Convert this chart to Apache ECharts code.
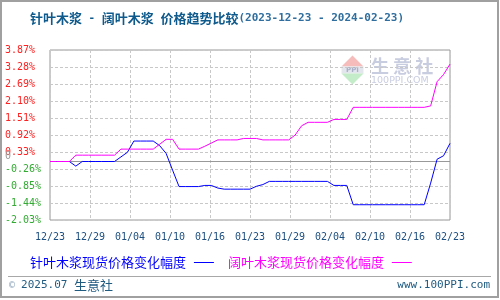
<!DOCTYPE html>
<html><head><meta charset="utf-8">
<script src="https://cdn.jsdelivr.net/npm/echarts@6/dist/echarts.min.js"></script>
<style>html,body{margin:0;padding:0;background:#fff}#c{width:500px;height:300px}</style>
</head><body><div id="c"></div>
<script>
// Daily points from 2023-12-23 to 2024-02-23 (63 days)
const dayCount = 63;
const xTickLabels = ['12/23','12/29','01/04','01/10','01/16','01/23','01/29','02/04','02/10','02/16','02/23'];
const yTickLabels = ['-2.03%','-1.44%','-0.85%','-0.26%','0.33%','0.92%','1.51%','2.10%','2.69%','3.28%','3.87%'];
const yMin = -2.03, yMax = 3.87, yStep = 0.59;
const seriesNames = ['针叶木浆现货价格变化幅度', '阔叶木浆现货价格变化幅度'];
const softwood = [
  0,0,0,0,-0.16,0,0,0,0,0,0,0.16,0.32,0.71,0.71,0.71,0.71,0.55,0.28,-0.30,
  -0.87,-0.87,-0.87,-0.87,-0.83,-0.83,-0.92,-0.96,-0.96,-0.96,-0.96,-0.96,-0.86,-0.80,
  -0.69,-0.69,-0.69,-0.69,-0.69,-0.69,-0.69,-0.69,-0.69,-0.69,-0.83,-0.83,-0.83,
  -1.50,-1.50,-1.50,-1.50,-1.50,-1.50,-1.50,-1.50,-1.50,-1.50,-1.50,-1.50,
  -0.75,0.08,0.20,0.63
];
const hardwood = [
  0,0,0,0,0.22,0.22,0.22,0.22,0.22,0.22,0.22,0.43,0.43,0.43,0.43,0.43,0.43,0.60,0.77,0.77,
  0.43,0.43,0.43,0.43,0.53,0.64,0.75,0.75,0.75,0.75,0.80,0.80,0.80,
  0.75,0.75,0.75,0.75,0.75,0.92,1.24,1.36,1.36,1.36,1.36,1.46,1.46,1.46,
  1.88,1.88,1.88,1.88,1.88,1.88,1.88,1.88,1.88,1.88,1.88,1.88,
  1.93,2.77,3.02,3.38
];

const xStep = (dayCount - 1) / (xTickLabels.length - 1);
const shift = v => +(v - yMin).toFixed(4);
const toPts = arr => arr.map((v, i) => [i, shift(v)]);
const mono = 'DejaVu Sans Mono';
const cjk = 'Noto Sans CJK SC';

const chart = echarts.init(document.getElementById('c'), null, {renderer: 'canvas'});
chart.setOption({
  backgroundColor: '#fff',
  animation: false,
  title: {
    left: 25, top: 7,
    text: '{a|针叶木浆}{m| - }{a|阔叶木浆}{m| }{a|价格趋势比较}{d|(2023-12-23 - 2024-02-23)}',
    textStyle: {
      rich: {
        a: {fontFamily: cjk, fontSize: 13, color: '#0f5a8c'},
        m: {fontFamily: mono, fontSize: 11, color: '#0f5a8c'},
        d: {fontFamily: mono, fontSize: 11, color: '#2f6e9e'}
      }
    }
  },
  grid: {left: 50, right: 50, top: 50, bottom: 80, show: true, borderColor: '#999', borderWidth: 1, backgroundColor: 'transparent'},
  legend: {
    left: 25, top: 251, align: 'right', icon: 'rect', itemWidth: 20, itemHeight: 1, itemGap: 14,
    formatter: '{name} ',
    textStyle: {fontFamily: cjk, fontSize: 13},
    data: [
      {name: seriesNames[0], textStyle: {color: '#0000ff'}},
      {name: seriesNames[1], textStyle: {color: '#ff00ff'}}
    ]
  },
  xAxis: {
    type: 'value', min: 0, max: dayCount - 1, interval: xStep,
    axisLine: {show: false}, axisTick: {show: false},
    splitLine: {show: true, lineStyle: {color: '#c8c8c8', type: [3, 2], width: 1}},
    axisLabel: {
      margin: 12, fontFamily: mono, fontSize: 10, color: '#1c4e80',
      formatter: v => xTickLabels[Math.round(v / xStep)] || ''
    }
  },
  yAxis: [{
    type: 'value', min: 0, max: +(yMax - yMin).toFixed(2), interval: yStep,
    axisLine: {show: false}, axisTick: {show: false},
    splitLine: {show: true, lineStyle: {color: '#c8c8c8', type: [3, 2], width: 1}},
    axisLabel: {
      margin: 45, align: 'left', fontFamily: mono, fontSize: 10,
      formatter: v => yTickLabels[Math.round(v / yStep)] || '',
      color: v => (Math.round(v / yStep) < 4 ? '#33aa33' : '#ff2020')
    }
  }, {
    type: 'value', position: 'left', min: 0, max: +(yMax - yMin).toFixed(2), interval: -yMin,
    axisLine: {show: false}, axisTick: {show: false}, splitLine: {show: false},
    axisLabel: {
      margin: 45, align: 'left', verticalAlign: 'bottom', fontFamily: mono, fontSize: 10, color: '#999',
      formatter: v => (Math.abs(v + yMin) < 1e-6 ? '0' : '')
    }
  }],
  series: [{
    name: 'zero', type: 'line', data: [[0, shift(0)], [dayCount - 1, shift(0)]], z: 1, silent: true,
    showSymbol: false, symbol: 'none', lineStyle: {color: '#999', width: 1}, itemStyle: {color: '#999'}
  }, {
    name: seriesNames[0], type: 'line', data: toPts(softwood), showSymbol: false, symbol: 'none',
    lineStyle: {color: '#0000ff', width: 1}, itemStyle: {color: '#0000ff'}, z: 3
  }, {
    name: seriesNames[1], type: 'line', data: toPts(hardwood), showSymbol: false, symbol: 'none',
    lineStyle: {color: '#ff00ff', width: 1}, itemStyle: {color: '#ff00ff'}, z: 4
  }],
  graphic: [
    {type: 'rect', shape: {x: 1, y: 1, width: 497, height: 296}, style: {fill: 'none', stroke: '#a0a0a0', lineWidth: 2}, z: 10, silent: true},
    {type: 'line', shape: {x1: 8, y1: 276.5, x2: 491, y2: 276.5}, style: {stroke: '#a8a8a8', lineWidth: 1}, silent: true},
    {type: 'text', left: 9, top: 279, style: {
      text: '{c|© }{m|2025.07 }{a|生意社}',
      rich: {
        c: {fontFamily: mono, fontSize: 10, fill: '#8fa6bd'},
        m: {fontFamily: mono, fontSize: 11, fill: '#1f5a80'},
        a: {fontFamily: cjk, fontSize: 13, fill: '#1f5a80'}
      }
    }},
    {type: 'text', right: 10, top: 280, style: {text: 'www.100PPI.com', fontFamily: mono, fontSize: 11, fill: '#1f5a80'}},
    // watermark logo
    {type: 'group', z: 0, silent: true, children: [
      {type: 'polygon', shape: {points: [[352.5, 55.5], [341.5, 66.5], [363.5, 66.5]]}, style: {fill: '#f6bcbc'}},
      {type: 'rect', shape: {x: 341.5, y: 66.5, width: 22, height: 7}, style: {fill: '#e4e6ee'}},
      {type: 'text', x: 352.5, y: 70, style: {text: 'PPI', fontFamily: 'DejaVu Sans', fontWeight: 'bold', fontSize: 7, fill: '#a9b0c8', align: 'center', verticalAlign: 'middle'}},
      {type: 'polygon', shape: {points: [[341.5, 73.5], [363.5, 73.5], [352.5, 84.5]]}, style: {fill: '#c4ecc8'}},
      {type: 'text', x: 371, y: 66, style: {text: '生 意 社', fontFamily: cjk, fontSize: 18, fontWeight: 'bold', fill: '#c9cde0', verticalAlign: 'middle'}},
      {type: 'text', x: 371, y: 81, style: {text: '100PPI.COM', fontFamily: 'DejaVu Sans', fontSize: 9.5, fill: '#c9cde0', verticalAlign: 'middle'}}
    ]}
  ]
});
</script></body></html>
